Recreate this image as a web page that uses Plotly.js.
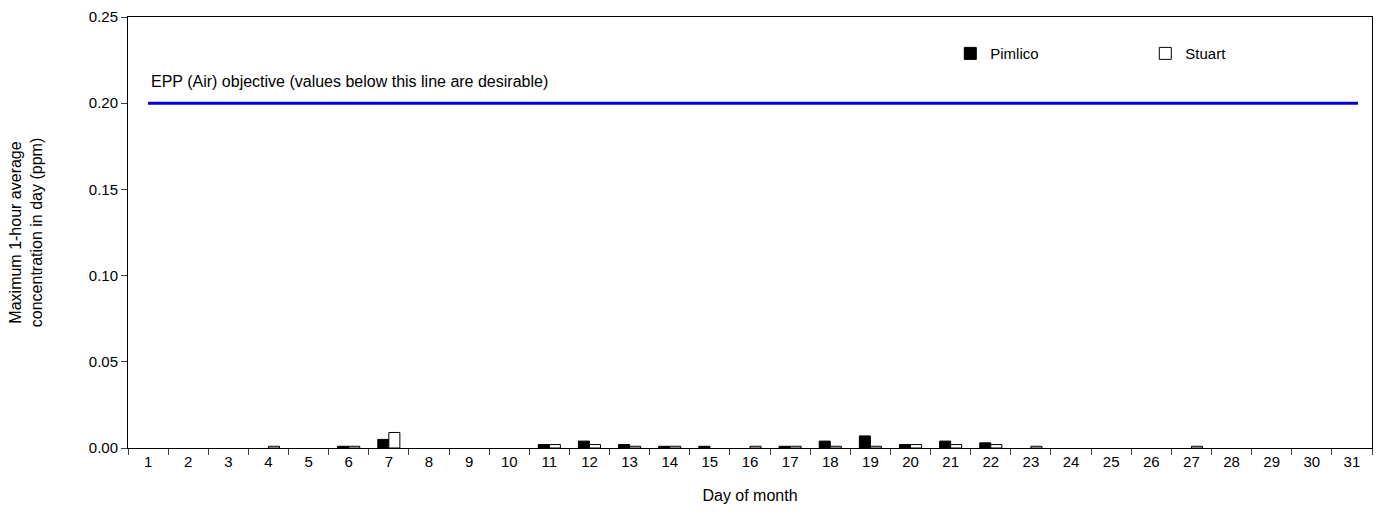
<!DOCTYPE html>
<html>
<head>
<meta charset="utf-8">
<script src="https://cdn.plot.ly/plotly-3.0.1.min.js"></script>
<style>body{margin:0;background:#fff}#chart{width:1385px;height:528px}</style>
</head>
<body>
<div id="chart"></div>
<script>
// Day of month categories and daily maxima (ppm)
const days = Array.from({ length: 31 }, (_, i) => String(i + 1));
const pimlico = [0,0,0,0,0,0.001,0.005,0,0,0,0.002,0.004,0.002,0.001,0.001,0,0.001,0.004,0.007,0.002,0.004,0.003,0,0,0,0,0,0,0,0,0];
const stuart  = [0,0,0,0.001,0,0.001,0.009,0,0,0,0.002,0.002,0.001,0.001,0,0.001,0.001,0.001,0.001,0.002,0.002,0.002,0.001,0,0,0,0.001,0,0,0,0];
const objective = 0.20;

// empty days draw no bar outline
const shown = vals => vals.map(v => v > 0 ? v : null);

const traces = [
    {
        x: days, y: shown(pimlico), type: 'bar', name: 'Pimlico',
        marker: { color: '#000', line: { color: '#000', width: 1 } }
    },
    {
        x: days, y: shown(stuart), type: 'bar', name: 'Stuart',
        marker: { color: '#fff', line: { color: '#000', width: 1 } }
    }
];

const layout = {
    width: 1385, height: 528,
    paper_bgcolor: '#fff', plot_bgcolor: '#fff',
    font: { family: 'Liberation Sans, Arial, sans-serif', size: 15, color: '#000' },
    margin: { l: 128, r: 13, t: 17, b: 80, autoexpand: false },
    bargap: 0.45, bargroupgap: 0,
    showlegend: true,
    legend: { orientation: 'h', x: 0.661, y: 0.915, xanchor: 'left', yanchor: 'middle',
              font: { size: 15 }, itemwidth: 30, entrywidth: 150, bgcolor: 'rgba(0,0,0,0)' },
    xaxis: {
        type: 'category', tickson: 'boundaries', ticks: 'outside', ticklen: 6,
        showline: true, linecolor: '#000', mirror: true, showgrid: false,
        title: { text: 'Day of month', font: { size: 16 }, standoff: 20 }
    },
    yaxis: {
        range: [0, 0.25], dtick: 0.05, tickformat: '.2f', ticks: 'outside', ticklen: 6,
        showline: true, linecolor: '#000', mirror: true, showgrid: false, zeroline: false,
        title: { text: 'Maximum 1-hour average<br>concentration in day (ppm)', font: { size: 16 }, standoff: 42 }
    },
    shapes: [{
        type: 'line', xref: 'x', yref: 'y', x0: 0, x1: 30.15, y0: objective, y1: objective,
        line: { color: '#0000dd', width: 3 }
    }],
    annotations: [{
        xref: 'paper', yref: 'y', x: 0.017, y: objective, xanchor: 'left', yanchor: 'bottom',
        yshift: 11, showarrow: false, font: { size: 16 },
        text: 'EPP (Air) objective (values below this line are desirable)'
    }]
};

Plotly.newPlot('chart', traces, layout, { displayModeBar: false, staticPlot: true });
</script>
</body>
</html>
